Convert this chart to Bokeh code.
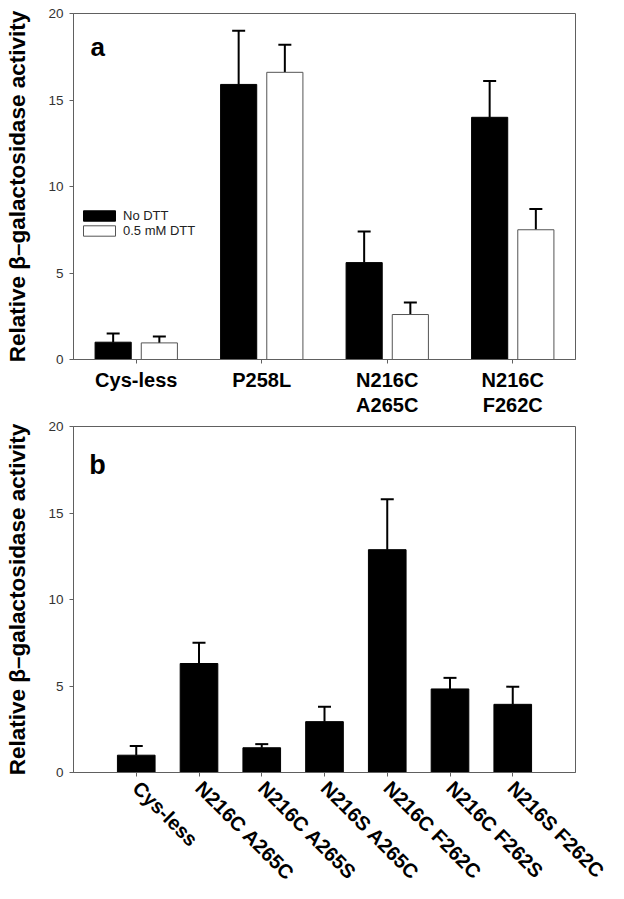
from bokeh.plotting import figure
from bokeh.layouts import column
from bokeh.models import (ColumnDataSource, FactorRange, Range1d, FixedTicker,
                          Legend, LegendItem, Label)
from bokeh.transform import dodge
from bokeh.embed import file_html
from bokeh.resources import INLINE

# ---------------- data ----------------
cats_a = ["Cys-less", "P258L", "N216C\nA265C", "N216C\nF262C"]
no_dtt = [1.0, 15.9, 5.6, 14.0]
no_dtt_err = [0.5, 3.1, 1.8, 2.1]
dtt = [0.96, 16.6, 2.6, 7.5]
dtt_err = [0.37, 1.6, 0.7, 1.2]

cats_b = ["Cys-less", "N216C A265C", "N216C A265S", "N216S A265C",
          "N216C F262C", "N216C F262S", "N216S F262C"]
vals_b = [1.0, 6.3, 1.43, 2.94, 12.88, 4.83, 3.94]
errs_b = [0.53, 1.2, 0.21, 0.86, 2.92, 0.64, 1.02]

y_ticks = [0, 5, 10, 15, 20]
y_title = "Relative \u03b2\u2013galactosidase activity"
series_labels = ["No DTT", "0.5 mM DTT"]

FONT = "Liberation Sans"
AXIS_COL = "#606060"


def style(p):
    p.xgrid.grid_line_color = None
    p.ygrid.grid_line_color = None
    p.outline_line_color = AXIS_COL
    p.outline_line_width = 1
    p.background_fill_color = "white"
    p.yaxis.ticker = FixedTicker(ticks=y_ticks)
    p.yaxis.axis_label = y_title
    p.yaxis.axis_label_text_font = FONT
    p.yaxis.axis_label_text_font_style = "bold"
    p.yaxis.axis_label_text_font_size = "22.5px"
    p.yaxis.axis_label_text_color = "black"
    p.yaxis.axis_label_standoff = 15
    p.yaxis.major_label_text_font = FONT
    p.yaxis.major_label_text_font_size = "13.5px"
    p.yaxis.major_label_text_color = "#333333"
    p.yaxis.major_label_standoff = 6
    p.yaxis.minor_tick_line_color = None
    for ax in (p.xaxis, p.yaxis):
        ax.axis_line_color = AXIS_COL
        ax.major_tick_line_color = AXIS_COL
        ax.major_tick_out = 4
        ax.major_tick_in = 0
    p.xaxis.major_label_text_font = FONT
    p.xaxis.major_label_text_font_style = "bold"
    p.xaxis.major_label_text_color = "black"


# ---------------- panel a ----------------
pa = figure(x_range=FactorRange(*cats_a, range_padding=0),
            y_range=Range1d(0, 20), width=608, height=418,
            output_backend="svg", toolbar_location=None,
            min_border_left=73, min_border_right=33,
            min_border_top=13, min_border_bottom=59)
style(pa)
pa.xaxis.major_label_text_font_size = "20px"
pa.xaxis.major_label_text_line_height = 1.15
pa.xaxis.major_label_standoff = 5

src_a = ColumnDataSource(dict(
    cat=cats_a, no=no_dtt, no_up=[v + e for v, e in zip(no_dtt, no_dtt_err)],
    d=dtt, d_up=[v + e for v, e in zip(dtt, dtt_err)]))

off = 0.184
bw = 0.288
xa0 = dodge("cat", -off, range=pa.x_range)
xa1 = dodge("cat", off, range=pa.x_range)

pa.segment(x0=xa0, x1=xa0, y0="no", y1="no_up", source=src_a,
           line_color="black", line_width=2)
pa.segment(x0=xa1, x1=xa1, y0="d", y1="d_up", source=src_a,
           line_color="black", line_width=2)
pa.scatter(x=xa0, y="no_up", source=src_a, marker="dash", size=13,
           line_color="black", line_width=2)
pa.scatter(x=xa1, y="d_up", source=src_a, marker="dash", size=13,
           line_color="black", line_width=2)
r_no = pa.vbar(x=xa0, top="no", width=bw, source=src_a,
               fill_color="black", line_color="black", line_width=1)
r_d = pa.vbar(x=xa1, top="d", width=bw, source=src_a,
              fill_color="white", line_color="#555555", line_width=1)

leg = Legend(items=[LegendItem(label=series_labels[0], renderers=[r_no]),
                    LegendItem(label=series_labels[1], renderers=[r_d])],
             location=(6, 121))
leg.glyph_width = 40
leg.glyph_height = 13
leg.label_height = 10
leg.label_standoff = 4
leg.spacing = 0
leg.padding = 0
leg.margin = 0
leg.border_line_alpha = 0
leg.background_fill_alpha = 0
leg.label_text_font = FONT
leg.label_text_font_size = "13px"
leg.label_text_color = "#222222"
pa.add_layout(leg, "center")

pa.add_layout(Label(x=0.135, y=18.05, text="a", text_font=FONT,
                    text_font_style="bold", text_font_size="26px",
                    text_baseline="alphabetic", text_color="black"))

# ---------------- panel b ----------------
pb = figure(x_range=FactorRange(*cats_b, range_padding=0.5,
                                range_padding_units="absolute"),
            y_range=Range1d(0, 20), width=608, height=478,
            output_backend="svg", toolbar_location=None,
            min_border_left=73, min_border_right=33,
            min_border_top=8, min_border_bottom=124)
style(pb)
pb.xaxis.major_label_text_font_size = "20px"
pb.xaxis.major_label_orientation = -0.785398
pb.xaxis.major_label_standoff = 8

src_b = ColumnDataSource(dict(cat=cats_b, v=vals_b,
                              up=[v + e for v, e in zip(vals_b, errs_b)]))
pb.segment(x0="cat", x1="cat", y0="v", y1="up", source=src_b,
           line_color="black", line_width=2)
pb.scatter(x="cat", y="up", source=src_b, marker="dash", size=13,
           line_color="black", line_width=2)
pb.vbar(x="cat", top="v", width=0.6, source=src_b,
        fill_color="black", line_color="black")

pb.add_layout(Label(x=-0.25, y=17.75, text="b", text_font=FONT,
                    text_font_style="bold", text_font_size="27px",
                    text_baseline="alphabetic", text_color="black"))

layout = column(pa, pb, spacing=0)
open("out.html", "w").write(file_html(layout, INLINE))
